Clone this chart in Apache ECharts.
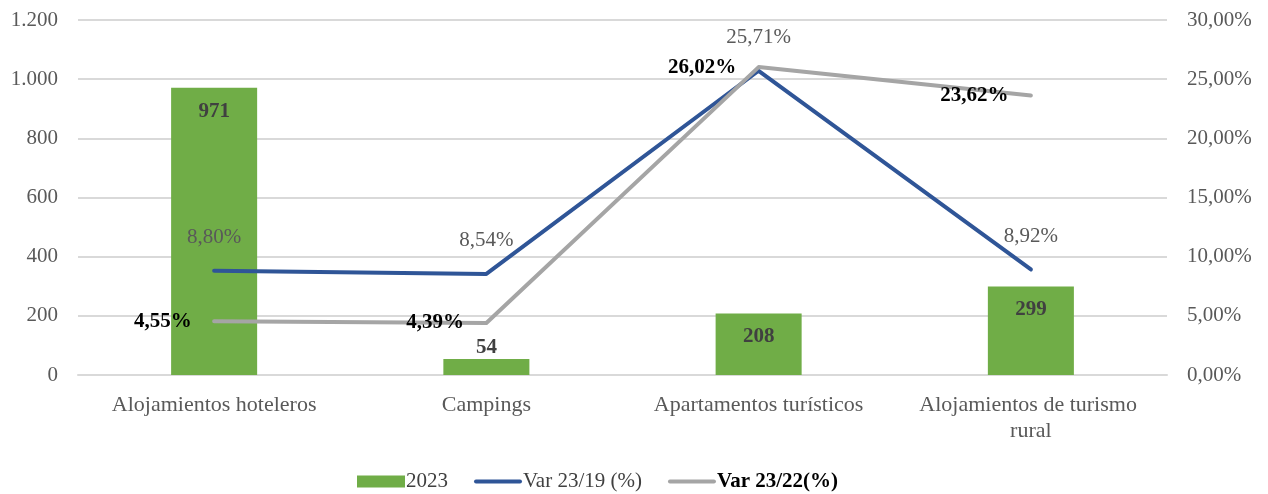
<!DOCTYPE html>
<html>
<head>
<meta charset="utf-8">
<script src="https://cdn.jsdelivr.net/npm/echarts@6/dist/echarts.min.js"></script>
<style>
  html, body { margin: 0; padding: 0; background: #fff; }
  #chart { width: 1268px; height: 494px; }
</style>
</head>
<body>
<div id="chart"></div>
<script>
const categories = ['Alojamientos hoteleros', 'Campings', 'Apartamentos turísticos', 'Alojamientos de turismo rural']
const plazas2023 = [971, 54, 208, 299]
const var2319 = [8.80, 8.54, 25.71, 8.92]
const var2322 = [4.55, 4.39, 26.02, 23.62]
const seriesNames = ['2023', 'Var 23/19 (%)', 'Var 23/22(%)']

const colors = ['#70ad47', '#2f5597', '#a5a5a5']
const font = '"Liberation Serif", "DejaVu Serif", serif'
const pct = v => v.toFixed(2).replace('.', ',') + '%'
const thousands = v => String(v).replace(/\B(?=(\d{3})+(?!\d))/g, '.')

const myChart = echarts.init(document.getElementById('chart'))

// short bars get their label above, the rest inside the top
const barData = plazas2023.map(v => ({
    value: v,
    label: { position: v < 100 ? 'top' : 'insideTop', distance: v < 100 ? 1 : 13 }
}))

const lineIcon = 'path://M2,0 L46,0 A2,2 0 0 1 46,4 L2,4 A2,2 0 0 1 2,0 Z'

const option = {
    color: colors,
    textStyle: { fontFamily: font },
    animation: false,
    grid: { left: 78, right: 101, top: 20, bottom: 119 },
    legend: {
        top: 471,
        left: 357,
        padding: 0,
        itemWidth: 48,
        itemHeight: 12,
        itemGap: 26,
        textStyle: { fontFamily: font, fontSize: 21, color: '#404040', padding: [0, 0, 0, -4] },
        data: [
            { name: seriesNames[0], icon: 'rect', itemStyle: { color: colors[0] } },
            { name: seriesNames[1], icon: lineIcon, itemStyle: { color: colors[1] } },
            { name: seriesNames[2], icon: lineIcon, itemStyle: { color: colors[2] }, textStyle: { fontWeight: 'bold', color: '#000' } }
        ]
    },
    xAxis: {
        type: 'category',
        data: categories,
        axisTick: { show: false },
        axisLine: { lineStyle: { color: '#d9d9d9', width: 2 } },
        axisLabel: {
            interval: 0,
            color: '#595959',
            fontSize: 22,
            fontFamily: font,
            margin: 17,
            lineHeight: 26,
            width: 250,
            overflow: 'break'
        }
    },
    yAxis: [
        {
            type: 'value',
            min: 0,
            max: 1200,
            interval: 200,
            axisLine: { show: false },
            axisTick: { show: false },
            splitLine: { lineStyle: { color: '#d9d9d9', width: 2 } },
            axisLabel: { color: '#595959', fontSize: 21, fontFamily: font, margin: 20, formatter: thousands }
        },
        {
            type: 'value',
            min: 0,
            max: 30,
            interval: 5,
            axisLine: { show: false },
            axisTick: { show: false },
            splitLine: { show: false },
            axisLabel: { color: '#595959', fontSize: 21, fontFamily: font, margin: 20, formatter: pct }
        }
    ],
    series: [
        {
            name: seriesNames[0],
            type: 'bar',
            barWidth: '31.6%',
            yAxisIndex: 0,
            itemStyle: { color: colors[0] },
            label: {
                show: true,
                color: '#404040',
                fontWeight: 'bold',
                fontSize: 21,
                fontFamily: font
            },
            data: barData
        },
        {
            name: seriesNames[1],
            type: 'line',
            yAxisIndex: 1,
            symbol: 'circle',
            symbolSize: 1,
            z: 3,
            itemStyle: { color: colors[1] },
            lineStyle: { color: colors[1], width: 4, cap: 'round', join: 'round' },
            label: {
                show: true,
                position: 'top',
                distance: 22,
                color: '#595959',
                fontSize: 21,
                fontFamily: font,
                formatter: p => pct(p.value)
            },
            data: var2319
        },
        {
            name: seriesNames[2],
            type: 'line',
            yAxisIndex: 1,
            symbol: 'circle',
            symbolSize: 1,
            z: 4,
            itemStyle: { color: colors[2] },
            lineStyle: { color: colors[2], width: 4, cap: 'round', join: 'round' },
            label: {
                show: true,
                position: 'left',
                distance: 22,
                color: '#000',
                fontWeight: 'bold',
                fontSize: 21,
                fontFamily: font,
                formatter: p => pct(p.value)
            },
            data: var2322
        }
    ]
}

myChart.setOption(option)
</script>
</body>
</html>
